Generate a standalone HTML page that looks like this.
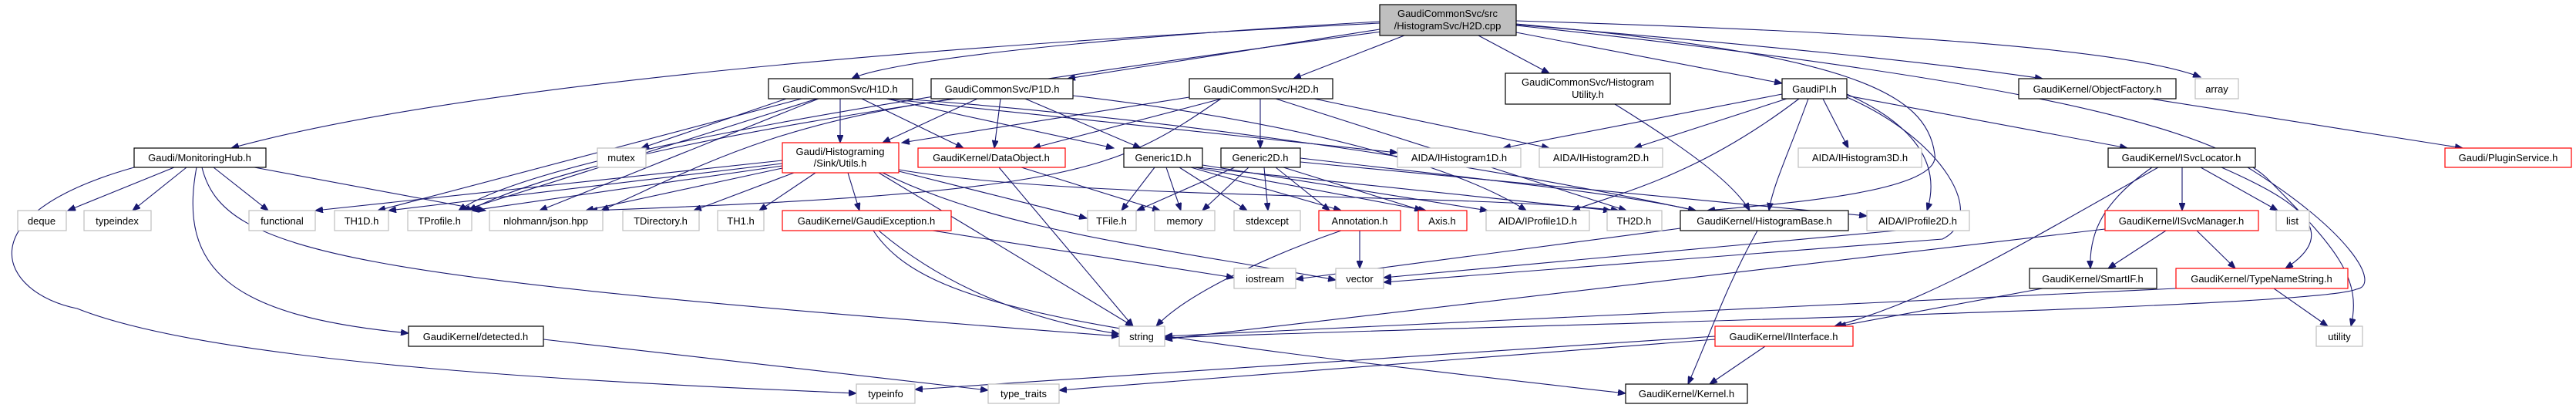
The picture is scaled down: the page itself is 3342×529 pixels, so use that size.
<!DOCTYPE html>
<html><head><meta charset="utf-8"><style>
html,body{margin:0;padding:0;background:#fff;}
svg{display:block;}
text{font-family:"Liberation Sans","DejaVu Sans",sans-serif;font-size:13px;fill:#000;}
.e{fill:none;stroke:#191970;stroke-width:1.1;marker-end:url(#a);}
.k{fill:#fff;stroke:#000;stroke-width:1.2;}
.g{fill:#fff;stroke:#bfbfbf;stroke-width:1.2;}
.r{fill:#fff;stroke:#ff0000;stroke-width:1.2;}
</style></head><body>
<svg width="3342" height="529" viewBox="0 0 3342 529" xmlns="http://www.w3.org/2000/svg">
<defs><marker id="a" markerUnits="userSpaceOnUse" markerWidth="11" markerHeight="8" refX="10" refY="4" orient="auto"><path d="M0,0 L10,4 L0,8 z" fill="#191970" stroke="#191970"/></marker></defs>
<g>
<path class="e" d="M1790,30 C1200,60 600,110 300,192"/>
<path class="e" d="M1800,40 C1200,120 700,200 595,273"/>
<path class="e" d="M1790,28 C1400,50 1150,80 1105,102"/>
<path class="e" d="M1790,38 L1385,102"/>
<path class="e" d="M1822,46 L1678,102"/>
<path class="e" d="M1918,46 L2010,95"/>
<path class="e" d="M1967,42 L2312,108"/>
<path class="e" d="M1967,32 C2300,60 2500,80 2650,102"/>
<path class="e" d="M1967,27 C2400,40 2750,60 2855,100"/>
<path class="e" d="M1967,31 C2400,70 2500,120 2510,200 C2520,250 2300,265 2215,273"/>
<path class="e" d="M1967,33 C2500,90 2850,150 2940,230 C3030,320 3065,360 3050,423"/>
<path class="e" d="M1090,128 L1090,185"/>
<path class="e" d="M1118,128 L1250,192"/>
<path class="e" d="M1150,128 L1445,192"/>
<path class="e" d="M1040,128 L490,273"/>
<path class="e" d="M1060,128 L600,273"/>
<path class="e" d="M1062,128 L700,273"/>
<path class="e" d="M1020,128 L832,192"/>
<path class="e" d="M1150,128 L1813,198"/>
<path class="e" d="M1170,128 C1600,160 2000,230 2200,273"/>
<path class="e" d="M1268,128 L1145,185"/>
<path class="e" d="M1298,128 L1290,192"/>
<path class="e" d="M1330,128 L1480,192"/>
<path class="e" d="M1236,128 C1100,150 750,200 608,273"/>
<path class="e" d="M1240,128 C1000,160 900,220 780,273"/>
<path class="e" d="M1392,124 C1700,160 1900,220 1980,273"/>
<path class="e" d="M1543,126 L1170,185"/>
<path class="e" d="M1585,128 L1340,192"/>
<path class="e" d="M1635,128 L1635,192"/>
<path class="e" d="M1655,128 L2110,273"/>
<path class="e" d="M1584,128 C1450,220 1400,250 765,273"/>
<path class="e" d="M1705,128 L2010,192"/>
<path class="e" d="M1015,208 L409,273"/>
<path class="e" d="M1015,212 L504,273"/>
<path class="e" d="M1015,215 L612,273"/>
<path class="e" d="M1015,218 L760,273"/>
<path class="e" d="M1030,224 L900,273"/>
<path class="e" d="M1058,224 L985,273"/>
<path class="e" d="M1100,224 L1115,273"/>
<path class="e" d="M1166,222 L1410,283"/>
<path class="e" d="M1140,224 C1250,290 1400,380 1470,423"/>
<path class="e" d="M1145,224 C1300,300 1500,320 1733,363"/>
<path class="e" d="M1166,220 C1400,260 1900,250 2100,273"/>
<path class="e" d="M1296,217 L1470,423"/>
<path class="e" d="M1325,217 L1505,273"/>
<path class="e" d="M1210,299 L1601,360"/>
<path class="e" d="M1140,299 C1200,350 1300,410 1452,433"/>
<path class="e" d="M1133,299 C1200,400 1400,430 2109,510"/>
<path class="e" d="M1498,217 L1455,273"/>
<path class="e" d="M1513,217 L1532,273"/>
<path class="e" d="M1530,217 L1618,273"/>
<path class="e" d="M1545,217 L1740,273"/>
<path class="e" d="M1550,217 L1850,273"/>
<path class="e" d="M1560,214 L1930,273"/>
<path class="e" d="M1555,217 L2090,273"/>
<path class="e" d="M1602,217 L1475,273"/>
<path class="e" d="M1620,217 L1560,273"/>
<path class="e" d="M1640,217 L1645,273"/>
<path class="e" d="M1655,217 L1725,273"/>
<path class="e" d="M1665,217 L1845,273"/>
<path class="e" d="M1687,210 L2422,280"/>
<path class="e" d="M1687,205 C1900,230 2100,250 2200,273"/>
<path class="e" d="M1764,299 L1764,348"/>
<path class="e" d="M1740,299 C1650,330 1540,380 1500,423"/>
<path class="e" d="M2280,299 C2240,370 2220,430 2190,498"/>
<path class="e" d="M2180,296 L1681,362"/>
<path class="e" d="M2460,299 L1795,360"/>
<path class="e" d="M2095,135 C2200,200 2250,240 2270,273"/>
<path class="e" d="M2312,122 L1950,192"/>
<path class="e" d="M2318,128 L2120,192"/>
<path class="e" d="M2365,128 L2398,192"/>
<path class="e" d="M2334,128 C2200,230 2100,250 2040,273"/>
<path class="e" d="M2346,128 C2320,200 2300,240 2295,273"/>
<path class="e" d="M2396,122 C2480,160 2520,210 2500,273"/>
<path class="e" d="M2396,124 L2760,192"/>
<path class="e" d="M2396,126 C2520,180 2580,280 2520,310 L1795,366"/>
<path class="e" d="M2790,128 L3195,192"/>
<path class="e" d="M2831,217 L2831,273"/>
<path class="e" d="M2855,217 L2955,273"/>
<path class="e" d="M2792,217 C2730,260 2710,300 2712,348"/>
<path class="e" d="M2882,217 C2980,260 3040,300 2965,348"/>
<path class="e" d="M2800,217 C2600,330 2500,390 2380,423"/>
<path class="e" d="M2916,217 C3050,300 3090,370 3057,375 C3000,400 2000,420 1511,438"/>
<path class="e" d="M2810,299 L2735,348"/>
<path class="e" d="M2850,299 L2900,348"/>
<path class="e" d="M2731,297 L1511,440"/>
<path class="e" d="M2650,374 L2385,423"/>
<path class="e" d="M2950,374 L3020,423"/>
<path class="e" d="M2823,374 L1511,436"/>
<path class="e" d="M2290,449 L2218,498"/>
<path class="e" d="M2225,436 L1187,505"/>
<path class="e" d="M2225,440 L1374,506"/>
<path class="e" d="M226,217 L88,273"/>
<path class="e" d="M242,217 L172,273"/>
<path class="e" d="M277,217 L348,273"/>
<path class="e" d="M330,217 L630,273"/>
<path class="e" d="M255,217 C230,350 300,410 530,432"/>
<path class="e" d="M262,217 C290,330 450,360 1452,436"/>
<path class="e" d="M174,217 C-50,280 0,380 100,400 C300,480 900,500 1111,510"/>
<path class="e" d="M705,440 L1282,506"/>
</g>
<g text-anchor="middle">
<rect x="1790" y="6" width="177" height="40" fill="#bfbfbf" stroke="#000" stroke-width="1.2"/><text x="1878" y="22">GaudiCommonSvc/src</text><text x="1878" y="38">/HistogramSvc/H2D.cpp</text>
<rect class="k" x="174" y="192" width="171" height="25"/><text x="259" y="209">Gaudi/MonitoringHub.h</text>
<rect class="g" x="23" y="273" width="63" height="26"/><text x="54" y="291">deque</text>
<rect class="g" x="109" y="273" width="87" height="26"/><text x="152" y="291">typeindex</text>
<rect class="g" x="323" y="273" width="86" height="26"/><text x="366" y="291">functional</text>
<rect class="g" x="434" y="273" width="70" height="26"/><text x="469" y="291">TH1D.h</text>
<rect class="g" x="529" y="273" width="83" height="26"/><text x="570" y="291">TProfile.h</text>
<rect class="g" x="635" y="273" width="147" height="26"/><text x="708" y="291">nlohmann/json.hpp</text>
<rect class="g" x="775" y="192" width="63" height="25"/><text x="806" y="209">mutex</text>
<rect class="k" x="530" y="423" width="175" height="26"/><text x="617" y="441">GaudiKernel/detected.h</text>
<rect class="k" x="997" y="102" width="187" height="26"/><text x="1090" y="120">GaudiCommonSvc/H1D.h</text>
<rect class="k" x="1208" y="102" width="184" height="26"/><text x="1300" y="120">GaudiCommonSvc/P1D.h</text>
<rect class="k" x="1543" y="102" width="186" height="26"/><text x="1636" y="120">GaudiCommonSvc/H2D.h</text>
<rect class="r" x="1015" y="185" width="151" height="39"/><text x="1090" y="201">Gaudi/Histograming</text><text x="1090" y="216">/Sink/Utils.h</text>
<rect class="r" x="1191" y="192" width="191" height="25"/><text x="1286" y="209">GaudiKernel/DataObject.h</text>
<rect class="k" x="1458" y="192" width="102" height="25"/><text x="1509" y="209">Generic1D.h</text>
<rect class="k" x="1584" y="192" width="103" height="25"/><text x="1635" y="209">Generic2D.h</text>
<rect class="g" x="808" y="273" width="99" height="26"/><text x="857" y="291">TDirectory.h</text>
<rect class="g" x="931" y="273" width="60" height="26"/><text x="961" y="291">TH1.h</text>
<rect class="r" x="1015" y="273" width="219" height="26"/><text x="1124" y="291">GaudiKernel/GaudiException.h</text>
<rect class="g" x="1411" y="273" width="63" height="26"/><text x="1442" y="291">TFile.h</text>
<rect class="g" x="1498" y="273" width="78" height="26"/><text x="1537" y="291">memory</text>
<rect class="g" x="1601" y="273" width="86" height="26"/><text x="1644" y="291">stdexcept</text>
<rect class="g" x="1601" y="348" width="80" height="26"/><text x="1641" y="366">iostream</text>
<rect class="g" x="1452" y="423" width="59" height="26"/><text x="1481" y="441">string</text>
<rect class="g" x="1111" y="498" width="76" height="25"/><text x="1149" y="515">typeinfo</text>
<rect class="g" x="1282" y="498" width="92" height="25"/><text x="1328" y="515">type_traits</text>
<rect class="k" x="1953" y="95" width="214" height="40"/><text x="2060" y="111">GaudiCommonSvc/Histogram</text><text x="2060" y="127">Utility.h</text>
<rect class="k" x="2312" y="102" width="84" height="26"/><text x="2354" y="120">GaudiPI.h</text>
<rect class="g" x="1813" y="192" width="160" height="25"/><text x="1893" y="209">AIDA/IHistogram1D.h</text>
<rect class="g" x="1997" y="192" width="160" height="25"/><text x="2077" y="209">AIDA/IHistogram2D.h</text>
<rect class="g" x="2333" y="192" width="160" height="25"/><text x="2413" y="209">AIDA/IHistogram3D.h</text>
<rect class="r" x="1711" y="273" width="106" height="26"/><text x="1764" y="291">Annotation.h</text>
<rect class="r" x="1840" y="273" width="63" height="26"/><text x="1871" y="291">Axis.h</text>
<rect class="g" x="1928" y="273" width="134" height="26"/><text x="1995" y="291">AIDA/IProfile1D.h</text>
<rect class="g" x="2085" y="273" width="71" height="26"/><text x="2120" y="291">TH2D.h</text>
<rect class="k" x="2180" y="273" width="218" height="26"/><text x="2289" y="291">GaudiKernel/HistogramBase.h</text>
<rect class="g" x="2422" y="273" width="133" height="26"/><text x="2488" y="291">AIDA/IProfile2D.h</text>
<rect class="g" x="1733" y="348" width="62" height="26"/><text x="1764" y="366">vector</text>
<rect class="r" x="2225" y="423" width="179" height="26"/><text x="2314" y="441">GaudiKernel/IInterface.h</text>
<rect class="k" x="2109" y="498" width="158" height="25"/><text x="2188" y="515">GaudiKernel/Kernel.h</text>
<rect class="k" x="2619" y="102" width="204" height="26"/><text x="2721" y="120">GaudiKernel/ObjectFactory.h</text>
<rect class="g" x="2848" y="102" width="56" height="26"/><text x="2876" y="120">array</text>
<rect class="k" x="2735" y="192" width="191" height="25"/><text x="2830" y="209">GaudiKernel/ISvcLocator.h</text>
<rect class="r" x="3172" y="192" width="164" height="25"/><text x="3254" y="209">Gaudi/PluginService.h</text>
<rect class="r" x="2731" y="273" width="199" height="26"/><text x="2830" y="291">GaudiKernel/ISvcManager.h</text>
<rect class="g" x="2953" y="273" width="43" height="26"/><text x="2974" y="291">list</text>
<rect class="k" x="2633" y="348" width="165" height="26"/><text x="2715" y="366">GaudiKernel/SmartIF.h</text>
<rect class="r" x="2823" y="348" width="223" height="26"/><text x="2934" y="366">GaudiKernel/TypeNameString.h</text>
<rect class="g" x="3005" y="423" width="60" height="26"/><text x="3035" y="441">utility</text>
</g>
</svg>
</body></html>
